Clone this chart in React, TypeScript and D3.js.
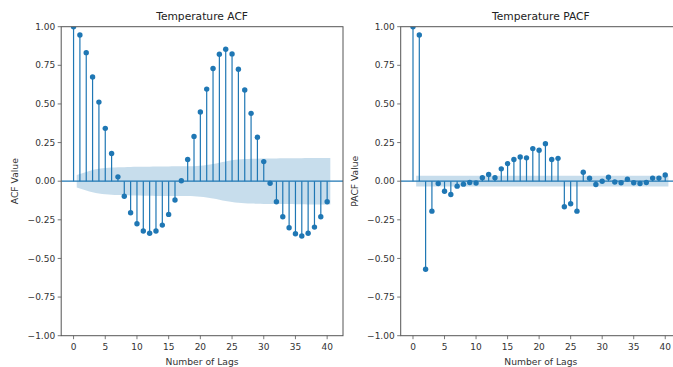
import React from 'react';
import * as d3 from 'd3';

const W = 673;
const H = 367;

// ACF values, lags 0..40
const ACF_VALUES = [
  1.0, 0.946, 0.832, 0.675, 0.512, 0.342, 0.179, 0.028, -0.097, -0.204,
  -0.275, -0.322, -0.337, -0.322, -0.284, -0.215, -0.122, 0.003, 0.14, 0.29,
  0.448, 0.596, 0.729, 0.822, 0.854, 0.824, 0.725, 0.59, 0.439, 0.284,
  0.127, -0.013, -0.133, -0.23, -0.301, -0.34, -0.355, -0.337, -0.297, -0.23,
  -0.133,
];

// ACF confidence half-width, lags 1..40
const ACF_CONF = [
  0.04, 0.06, 0.072, 0.08, 0.085, 0.088, 0.09, 0.091, 0.092, 0.093,
  0.094, 0.094, 0.095, 0.095, 0.095, 0.096, 0.096, 0.096, 0.097, 0.1,
  0.105, 0.112, 0.12, 0.128, 0.135, 0.14, 0.143, 0.145, 0.146, 0.147,
  0.147, 0.147, 0.148, 0.148, 0.149, 0.149, 0.15, 0.15, 0.15, 0.15,
];

// PACF values, lags 0..40
const PACF_VALUES = [
  1.0, 0.946, -0.57, -0.194, -0.015, -0.065, -0.086, -0.032, -0.019, -0.008,
  -0.012, 0.022, 0.043, 0.022, 0.08, 0.114, 0.14, 0.157, 0.151, 0.211,
  0.2, 0.243, 0.14, 0.148, -0.165, -0.146, -0.194, 0.058, 0.019, -0.021,
  0.0, 0.026, -0.005, -0.01, 0.013, -0.01, -0.015, -0.008, 0.02, 0.02,
  0.04,
];

// PACF confidence half-width, lags 1..40
const PACF_CONF = [
  0.035, 0.035, 0.035, 0.035, 0.035, 0.035, 0.035, 0.035, 0.035, 0.035,
  0.035, 0.035, 0.035, 0.035, 0.035, 0.035, 0.035, 0.035, 0.035, 0.035,
  0.035, 0.035, 0.035, 0.035, 0.035, 0.035, 0.035, 0.035, 0.035, 0.035,
  0.035, 0.035, 0.035, 0.035, 0.035, 0.035, 0.035, 0.035, 0.035, 0.035,
];

const X_TICKS = [0, 5, 10, 15, 20, 25, 30, 35, 40];
const Y_TICKS = [-1.0, -0.75, -0.5, -0.25, 0.0, 0.25, 0.5, 0.75, 1.0];

const BLUE = '#1f77b4';
const FONT = 'DejaVu Sans, sans-serif';
const TOP = 26.7;
const BOTTOM = 335.7;

interface PanelProps {
  id: string;
  title: string;
  yLabel: string;
  values: number[];
  conf: number[];
  left: number;
  right: number;
}

const Panel: React.FC<PanelProps> = ({ id, title, yLabel, values, conf, left, right }) => {
  const x = d3.scaleLinear().domain([-1.95, 42.5]).range([left, right]);
  const y = d3.scaleLinear().domain([-1, 1]).range([BOTTOM, TOP]);
  const fmt = (v: number) => d3.format('.2f')(v).replace('-', '\u2212');

  // band starts half a lag before lag 1 and ends half a lag after the last lag
  const bandPts = conf.map((c, i) => {
    const lag = i + 1;
    const pos = i === 0 ? lag - 0.5 : i === conf.length - 1 ? lag + 0.5 : lag;
    return { pos, c };
  });
  const area = d3.area<{ pos: number; c: number }>()
    .x(d => x(d.pos))
    .y0(d => y(-d.c))
    .y1(d => y(d.c))
    .curve(d3.curveMonotoneX);

  const cx = (left + right) / 2;
  const cy = (TOP + BOTTOM) / 2;

  return (
    <g>
      <defs>
        <clipPath id={`clip-${id}`}>
          <rect x={left} y={TOP} width={right - left} height={BOTTOM - TOP} />
        </clipPath>
      </defs>
      <g clipPath={`url(#clip-${id})`}>
        <path d={area(bandPts) || ''} fill={BLUE} fillOpacity={0.25} />
        <line x1={left} x2={right} y1={y(0)} y2={y(0)} stroke={BLUE} strokeWidth={1.2} />
        {values.map((v, i) => (
          <line key={`s${i}`} x1={x(i)} x2={x(i)} y1={y(0)} y2={y(v)} stroke={BLUE} strokeWidth={1.2} />
        ))}
        {values.map((v, i) => (
          <circle key={`m${i}`} cx={x(i)} cy={y(v)} r={2.7} fill={BLUE} />
        ))}
      </g>
      <rect x={left} y={TOP} width={right - left} height={BOTTOM - TOP} fill="none" stroke="#555" strokeWidth={1} />
      {X_TICKS.map(t => (
        <g key={`xt${t}`}>
          <line x1={x(t)} x2={x(t)} y1={BOTTOM} y2={BOTTOM + 3.5} stroke="#555" strokeWidth={0.8} />
          <text x={x(t)} y={350} textAnchor="middle" fontSize={9} fill="#333" fontFamily={FONT}>{t}</text>
        </g>
      ))}
      {Y_TICKS.map(t => (
        <g key={`yt${t}`}>
          <line x1={left - 3.5} x2={left} y1={y(t)} y2={y(t)} stroke="#555" strokeWidth={0.8} />
          <text x={left - 6} y={y(t)} dy="0.35em" textAnchor="end" fontSize={9} fill="#333" fontFamily={FONT}>{fmt(t)}</text>
        </g>
      ))}
      <text x={cx} y={19.5} textAnchor="middle" fontSize={10.7} fill="#222" fontFamily={FONT}>{title}</text>
      <text x={Math.min(cx, 541)} y={364.5} textAnchor="middle" fontSize={9.2} fill="#333" fontFamily={FONT}>Number of Lags</text>
      <text
        x={left - 46}
        y={cy}
        dy="0.35em"
        textAnchor="middle"
        fontSize={9.2}
        fill="#333"
        fontFamily={FONT}
        transform={`rotate(-90, ${left - 46}, ${cy})`}
      >
        {yLabel}
      </text>
    </g>
  );
};

export default function App() {
  return (
    <svg
      width={W}
      height={H}
      style={{ position: 'absolute', left: 0, top: 0, background: 'white' }}
    >
      <rect width={W} height={H} fill="white" />
      <Panel id="acf" title="Temperature ACF" yLabel="ACF Value" values={ACF_VALUES} conf={ACF_CONF} left={61.2} right={343} />
      <Panel id="pacf" title="Temperature PACF" yLabel="PACF Value" values={PACF_VALUES} conf={PACF_CONF} left={400.7} right={681} />
    </svg>
  );
}
